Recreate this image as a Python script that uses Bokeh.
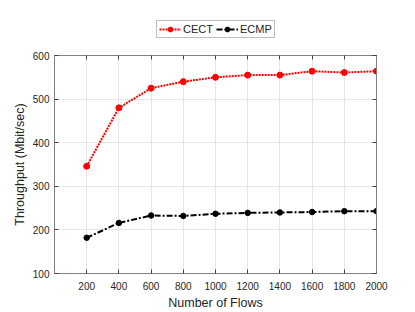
from bokeh.plotting import figure
from bokeh.models import Range1d, FixedTicker, LinearAxis, Legend, LegendItem
from bokeh.layouts import column
from bokeh.embed import file_html
from bokeh.resources import INLINE

flows = [200, 400, 600, 800, 1000, 1200, 1400, 1600, 1800, 2000]
cect = [346, 480, 525, 540, 550, 555, 555, 564, 561, 564]
ecmp = [182, 216, 233, 232, 237, 239, 240, 241, 243, 243]
x_ticks = [200, 400, 600, 800, 1000, 1200, 1400, 1600, 1800, 2000]
y_ticks = [100, 200, 300, 400, 500, 600]
series_names = ["CECT", "ECMP"]

FONT = "Liberation Sans"
RED_STYLE = dict(line_color="red", line_width=2, line_dash="2 1")
RED_MK = dict(size=6, fill_color="red", line_color="red")
BLK_STYLE = dict(line_color="black", line_width=2, line_dash="6 2 2 2")
BLK_MK = dict(size=5.5, fill_color="black", line_color="black")

# ---- main plot ----
p = figure(width=415, height=266, output_backend="svg", toolbar_location=None,
           x_range=Range1d(0, 2000), y_range=Range1d(100, 600),
           min_border_left=54, min_border_right=39, min_border_top=9, min_border_bottom=39)

p.background_fill_color = "white"
p.border_fill_color = "white"
p.outline_line_color = "#808080"
p.outline_line_width = 1

for ax in (p.xaxis[0], p.yaxis[0]):
    ax.axis_line_color = "#808080"
    ax.major_tick_line_color = "#404040"
    ax.major_tick_in = 4
    ax.major_tick_out = 0
    ax.minor_tick_line_color = None
    ax.major_label_text_font = FONT
    ax.major_label_text_font_size = "10px"
    ax.major_label_text_color = "#262626"
    ax.axis_label_text_font = FONT
    ax.axis_label_text_font_size = "12.5px"
    ax.axis_label_text_font_style = "normal"
    ax.axis_label_text_color = "#262626"

p.xaxis.ticker = FixedTicker(ticks=x_ticks)
p.yaxis.ticker = FixedTicker(ticks=y_ticks)
p.xaxis.axis_label = "Number of Flows"
p.yaxis.axis_label = "Throughput (Mbit/sec)"
p.xaxis.major_label_standoff = 8
p.yaxis.major_label_standoff = 5
p.xaxis.axis_label_standoff = 3
p.yaxis.axis_label_standoff = 3

top = LinearAxis(ticker=FixedTicker(ticks=x_ticks), major_label_text_font_size="0px",
                 major_label_standoff=0,
                 major_tick_in=4, major_tick_out=0, minor_tick_line_color=None,
                 axis_line_color="#808080", major_tick_line_color="#404040")
right = LinearAxis(ticker=FixedTicker(ticks=y_ticks), major_label_text_font_size="0px",
                   major_label_standoff=0,
                   major_tick_in=4, major_tick_out=0, minor_tick_line_color=None,
                   axis_line_color="#808080", major_tick_line_color="#404040")
p.add_layout(top, "above")
p.add_layout(right, "right")

p.xgrid.ticker = FixedTicker(ticks=x_ticks)
p.ygrid.ticker = FixedTicker(ticks=y_ticks)
p.grid.grid_line_color = "#e6e6e6"
p.grid.grid_line_width = 1

p.line(flows, cect, **RED_STYLE)
p.scatter(flows, cect, **RED_MK)
p.line(flows, ecmp, **BLK_STYLE)
p.scatter(flows, ecmp, **BLK_MK)

# ---- legend strip above the plot (its glyphs fall outside its own view) ----
lg = figure(width=415, height=46, output_backend="svg", toolbar_location=None,
            x_range=Range1d(0, 1), y_range=Range1d(0, 1),
            x_axis_type=None, y_axis_type=None, min_border=0)
lg.outline_line_color = None
lg.grid.visible = False
lg.background_fill_color = "white"
lg.border_fill_color = "white"

r1 = lg.line(flows, cect, **RED_STYLE)
m1 = lg.scatter(flows, cect, **RED_MK)
r2 = lg.line(flows, ecmp, **BLK_STYLE)
m2 = lg.scatter(flows, ecmp, **BLK_MK)

legend = Legend(items=[LegendItem(label=series_names[0], renderers=[r1, m1]),
                       LegendItem(label=series_names[1], renderers=[r2, m2])],
                orientation="horizontal", location=(102, 8),
                label_text_font=FONT, label_text_font_size="11px",
                label_text_color="#262626",
                border_line_color="#808080", border_line_width=1,
                background_fill_color="white",
                padding=2, spacing=3, margin=0, glyph_width=22, glyph_height=12,
                label_standoff=2, label_height=12)
lg.add_layout(legend, "center")

layout = column(lg, p, spacing=0)
open("out.html", "w").write(file_html(layout, INLINE))
